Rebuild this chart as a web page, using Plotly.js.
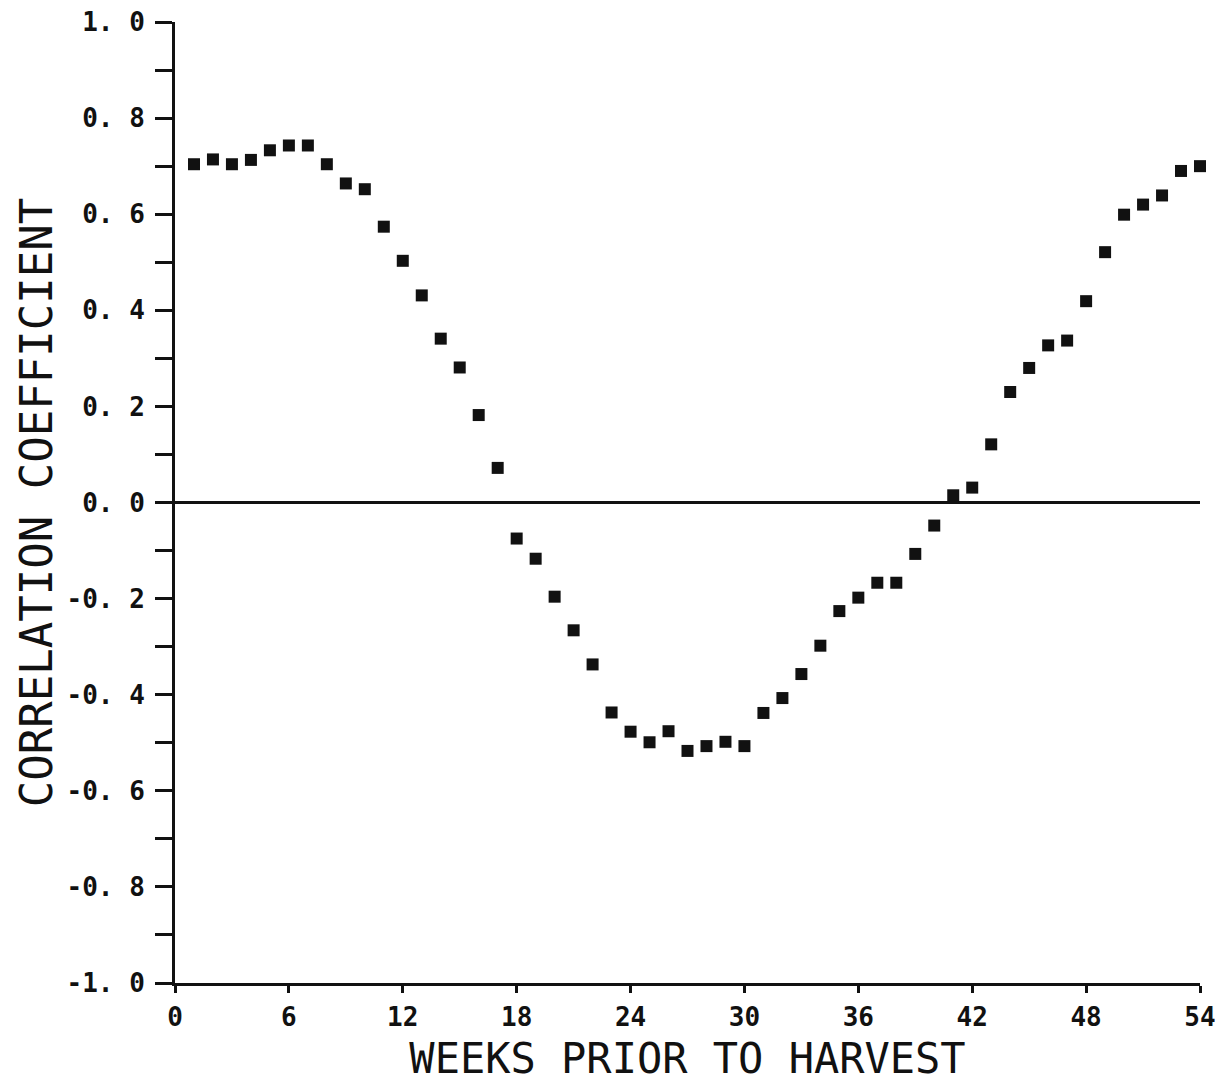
<!DOCTYPE html>
<html>
<head>
<meta charset="utf-8">
<script src="https://cdn.plot.ly/plotly-3.0.1.min.js"></script>
<style>
  html, body { margin: 0; padding: 0; background: #ffffff; }
  #chart { width: 1232px; height: 1092px; }
</style>
</head>
<body>
<div id="chart"></div>
<script>
// Weeks prior to harvest
const weeks = [1, 2, 3, 4, 5, 6, 7, 8, 9, 10,
               11, 12, 13, 14, 15, 16, 17, 18, 19, 20,
               21, 22, 23, 24, 25, 26, 27, 28, 29, 30,
               31, 32, 33, 34, 35, 36, 37, 38, 39, 40,
               41, 42, 43, 44, 45, 46, 47, 48, 49, 50,
               51, 52, 53, 54];

// Correlation coefficient
const correlation = [0.704, 0.714, 0.704, 0.713, 0.733, 0.743, 0.743, 0.704, 0.664, 0.652,
                     0.574, 0.503, 0.431, 0.341, 0.281, 0.182, 0.072, -0.075, -0.117, -0.196,
                     -0.266, -0.337, -0.437, -0.477, -0.499, -0.476, -0.517, -0.507, -0.498, -0.507,
                     -0.438, -0.407, -0.357, -0.298, -0.226, -0.198, -0.167, -0.167, -0.107, -0.048,
                     0.015, 0.031, 0.121, 0.230, 0.280, 0.327, 0.337, 0.419, 0.521, 0.599,
                     0.620, 0.639, 0.690, 0.700];

// Axis ticks
const xTickVals = [0, 6, 12, 18, 24, 30, 36, 42, 48, 54];
const xTickText = ["0", "6", "12", "18", "24", "30", "36", "42", "48", "54"];
const yTickVals = [-1.0, -0.9, -0.8, -0.7, -0.6, -0.5, -0.4, -0.3, -0.2, -0.1,
                   0.0, 0.1, 0.2, 0.3, 0.4, 0.5, 0.6, 0.7, 0.8, 0.9, 1.0];
const yTickText = ["-1. 0", "", "-0. 8", "", "-0. 6", "", "-0. 4", "", "-0. 2", "",
                   "0. 0", "", "0. 2", "", "0. 4", "", "0. 6", "", "0. 8", "", "1. 0"];

const xTitle = "WEEKS PRIOR TO HARVEST";
const yTitle = "CORRELATION COEFFICIENT";

const FONT = "DejaVu Sans Mono, Liberation Mono, monospace";

const trace = {
  x: weeks,
  y: correlation,
  type: "scatter",
  mode: "markers",
  cliponaxis: false,
  marker: { symbol: "square", size: 12, color: "#111111", line: { width: 0 } },
  hoverinfo: "x+y",
  showlegend: false
};

const layout = {
  width: 1232,
  height: 1092,
  paper_bgcolor: "#ffffff",
  plot_bgcolor: "#ffffff",
  margin: { l: 175, r: 32, t: 22, b: 109, pad: 0 },
  font: { family: FONT, color: "#111111" },
  xaxis: {
    range: [0, 54],
    tickmode: "array",
    tickvals: xTickVals,
    ticktext: xTickText,
    ticks: "outside",
    ticklen: 7,
    tickwidth: 3,
    tickcolor: "#111111",
    ticklabelstandoff: 2,
    tickfont: { family: FONT, size: 26, color: "#111111", weight: "bold" },
    showline: true,
    linewidth: 3,
    linecolor: "#111111",
    showgrid: false,
    zeroline: false,
    title: {
      text: xTitle,
      font: { family: FONT, size: 42, color: "#111111" },
      standoff: 13
    }
  },
  yaxis: {
    range: [-1, 1],
    tickmode: "array",
    tickvals: yTickVals,
    ticktext: yTickText,
    ticks: "outside",
    ticklen: 17,
    tickwidth: 3,
    tickcolor: "#111111",
    ticklabelstandoff: 5,
    tickfont: { family: FONT, size: 26, color: "#111111", weight: "bold" },
    showline: true,
    linewidth: 3,
    linecolor: "#111111",
    showgrid: false,
    zeroline: true,
    zerolinewidth: 3,
    zerolinecolor: "#111111",
    title: {
      text: yTitle,
      font: { family: FONT, size: 44, color: "#111111" },
      standoff: 1
    }
  }
};

Plotly.newPlot("chart", [trace], layout, { displayModeBar: false, staticPlot: true });
</script>
</body>
</html>
